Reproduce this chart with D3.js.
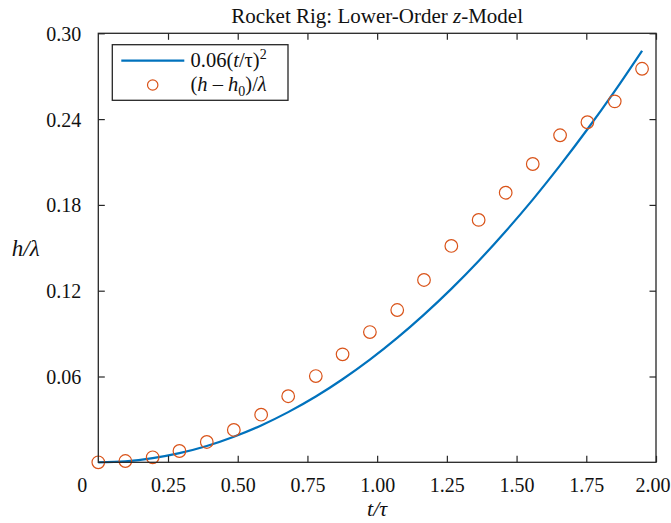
<!DOCTYPE html>
<html>
<head>
<meta charset="utf-8">
<script src="https://cdn.jsdelivr.net/npm/d3@7"></script>
<style>
  html, body { margin: 0; padding: 0; background: #fff; }
  svg { display: block; font-family: "Liberation Serif", "Times New Roman", serif; }
</style>
</head>
<body>
<svg id="chart" width="671" height="523"></svg>
<script>
// Normalised time t/τ of each sample
const tValues = [0, 0.097, 0.195, 0.291, 0.389, 0.486, 0.584, 0.681, 0.780, 0.876,
                 0.974, 1.072, 1.168, 1.266, 1.364, 1.461, 1.558, 1.656, 1.754, 1.852, 1.950];
// Model curve 0.06(t/τ)^2
const modelValues = [0, 0.0007, 0.0029, 0.0064, 0.0114, 0.0179, 0.0258, 0.0351, 0.0460, 0.0581,
                     0.0718, 0.0870, 0.1033, 0.1213, 0.1408, 0.1616, 0.1837, 0.2076, 0.2329, 0.2596, 0.2878];
// Measured rise (h - h0)/λ
const measuredValues = [0.0000, 0.0009, 0.0035, 0.0079, 0.0142, 0.0226, 0.0333, 0.0462, 0.0603, 0.0755,
                        0.0911, 0.1065, 0.1275, 0.1513, 0.1695, 0.1885, 0.2086, 0.2287, 0.2378, 0.2524, 0.2752];
// Axis ticks
const xTicks = [0.25, 0.5, 0.75, 1.0, 1.25, 1.5, 1.75, 2.0];
const yTicks = [0.06, 0.12, 0.18, 0.24, 0.30];

const serif = '"Liberation Serif", "Times New Roman", serif';
const blue = "#0072BD", orange = "#D95319", axisColor = "#262626";
const svg = d3.select("#chart");
const W = 671, H = 523;
const m = { left: 98.3, right: W - 656, top: 33.3, bottom: H - 462.3 };

const x = d3.scaleLinear().domain([0, 2]).range([m.left, W - m.right]);
const y = d3.scaleLinear().domain([0, 0.30]).range([H - m.bottom, m.top]);

svg.append("rect").attr("width", W).attr("height", H).attr("fill", "#fff");

// Model curve
const line = d3.line().x(d => x(d[0])).y(d => y(d[1])).curve(d3.curveMonotoneX);
svg.append("path")
  .datum(tValues.map((t, i) => [t, modelValues[i]]))
  .attr("d", line)
  .attr("fill", "none").attr("stroke", blue).attr("stroke-width", 2.2);

// Measured points
svg.append("g").selectAll("circle")
  .data(tValues.map((t, i) => [t, measuredValues[i]]))
  .join("circle")
  .attr("cx", d => x(d[0])).attr("cy", d => y(d[1])).attr("r", 6.3)
  .attr("fill", "none").attr("stroke", orange).attr("stroke-width", 1.2);

// Axes box with inward ticks on all four sides
const tickLen = 6.5;
function styleAxis(g) {
  g.attr("font-family", serif).attr("font-size", 20);
  g.select(".domain").remove();
  g.selectAll(".tick line").attr("stroke", axisColor).attr("stroke-width", 1.2);
  g.selectAll("text").attr("fill", "#111");
}
svg.append("g").attr("transform", `translate(0,${y(0)})`)
  .call(d3.axisBottom(x).tickValues(xTicks).tickSizeInner(-tickLen)
        .tickFormat(d3.format(".2f")))
  .call(styleAxis)
  .call(g => g.selectAll("text").attr("dy", null).attr("y", 29.4))
  // the last label sits flush against the right edge of the page
  .call(g => g.selectAll(".tick").filter(d => d === 2).select("text")
        .attr("text-anchor", "end").attr("x", W - 1 - x(2)));
svg.append("g").attr("transform", `translate(0,${y(0.30)})`)
  .call(d3.axisTop(x).tickValues(xTicks).tickSizeInner(-tickLen).tickFormat(""))
  .call(styleAxis);
svg.append("g").attr("transform", `translate(${x(0)},0)`)
  .call(d3.axisLeft(y).tickValues(yTicks).tickSizeInner(-tickLen).tickPadding(17)
        .tickFormat(d3.format(".2f")))
  .call(styleAxis)
  .call(g => g.selectAll("text").attr("dy", null).attr("y", 7));
svg.append("g").attr("transform", `translate(${x(2)},0)`)
  .call(d3.axisRight(y).tickValues(yTicks).tickSizeInner(-tickLen).tickFormat(""))
  .call(styleAxis);

svg.append("rect")
  .attr("x", x(0)).attr("y", y(0.30))
  .attr("width", x(2) - x(0)).attr("height", y(0) - y(0.30))
  .attr("fill", "none").attr("stroke", axisColor).attr("stroke-width", 1.3);

// Origin label
svg.append("text").attr("x", x(0) - 16).attr("y", 491.7)
  .attr("text-anchor", "middle").attr("font-size", 20).attr("fill", "#111").text("0");

// Title
const title = svg.append("text").attr("x", (x(0) + x(2)) / 2).attr("y", 23)
  .attr("text-anchor", "middle").attr("font-size", 21).attr("fill", "#111");
title.append("tspan").text("Rocket Rig: Lower-Order ");
title.append("tspan").attr("font-style", "italic").text("z");
title.append("tspan").text("-Model");

// Axis labels
svg.append("text").attr("x", (x(0) + x(2)) / 2).attr("y", 516)
  .attr("text-anchor", "middle").attr("font-size", 22).attr("fill", "#111")
  .attr("font-style", "italic").text("t/τ");
svg.append("text").attr("x", 25.8).attr("y", 256)
  .attr("text-anchor", "middle").attr("font-size", 23).attr("fill", "#111")
  .attr("font-style", "italic").text("h/λ");

// Legend
const lg = svg.append("g");
lg.append("rect").attr("x", 112.3).attr("y", 44.7).attr("width", 175.7).attr("height", 55.6)
  .attr("fill", "#fff").attr("stroke", axisColor).attr("stroke-width", 1.3);
lg.append("line").attr("x1", 121.3).attr("x2", 184.3).attr("y1", 60.7).attr("y2", 60.7)
  .attr("stroke", blue).attr("stroke-width", 2.2);
lg.append("circle").attr("cx", 152.7).attr("cy", 85).attr("r", 5.2)
  .attr("fill", "none").attr("stroke", orange).attr("stroke-width", 1.2);

const t1 = lg.append("text").attr("x", 190.5).attr("y", 67).attr("font-size", 20.5).attr("fill", "#111");
t1.append("tspan").text("0.06(");
t1.append("tspan").attr("font-style", "italic").text("t");
t1.append("tspan").text("/τ)");
t1.append("tspan").attr("font-size", 14).attr("dy", -8).text("2");

const t2 = lg.append("text").attr("x", 190.5).attr("y", 91).attr("font-size", 20.5).attr("fill", "#111");
t2.append("tspan").text("(");
t2.append("tspan").attr("font-style", "italic").text("h");
t2.append("tspan").text(" – ");
t2.append("tspan").attr("font-style", "italic").text("h");
t2.append("tspan").attr("font-size", 14).attr("dy", 5).text("0");
t2.append("tspan").attr("dy", -5).text(")/");
t2.append("tspan").attr("font-style", "italic").text("λ");
</script>
</body>
</html>
